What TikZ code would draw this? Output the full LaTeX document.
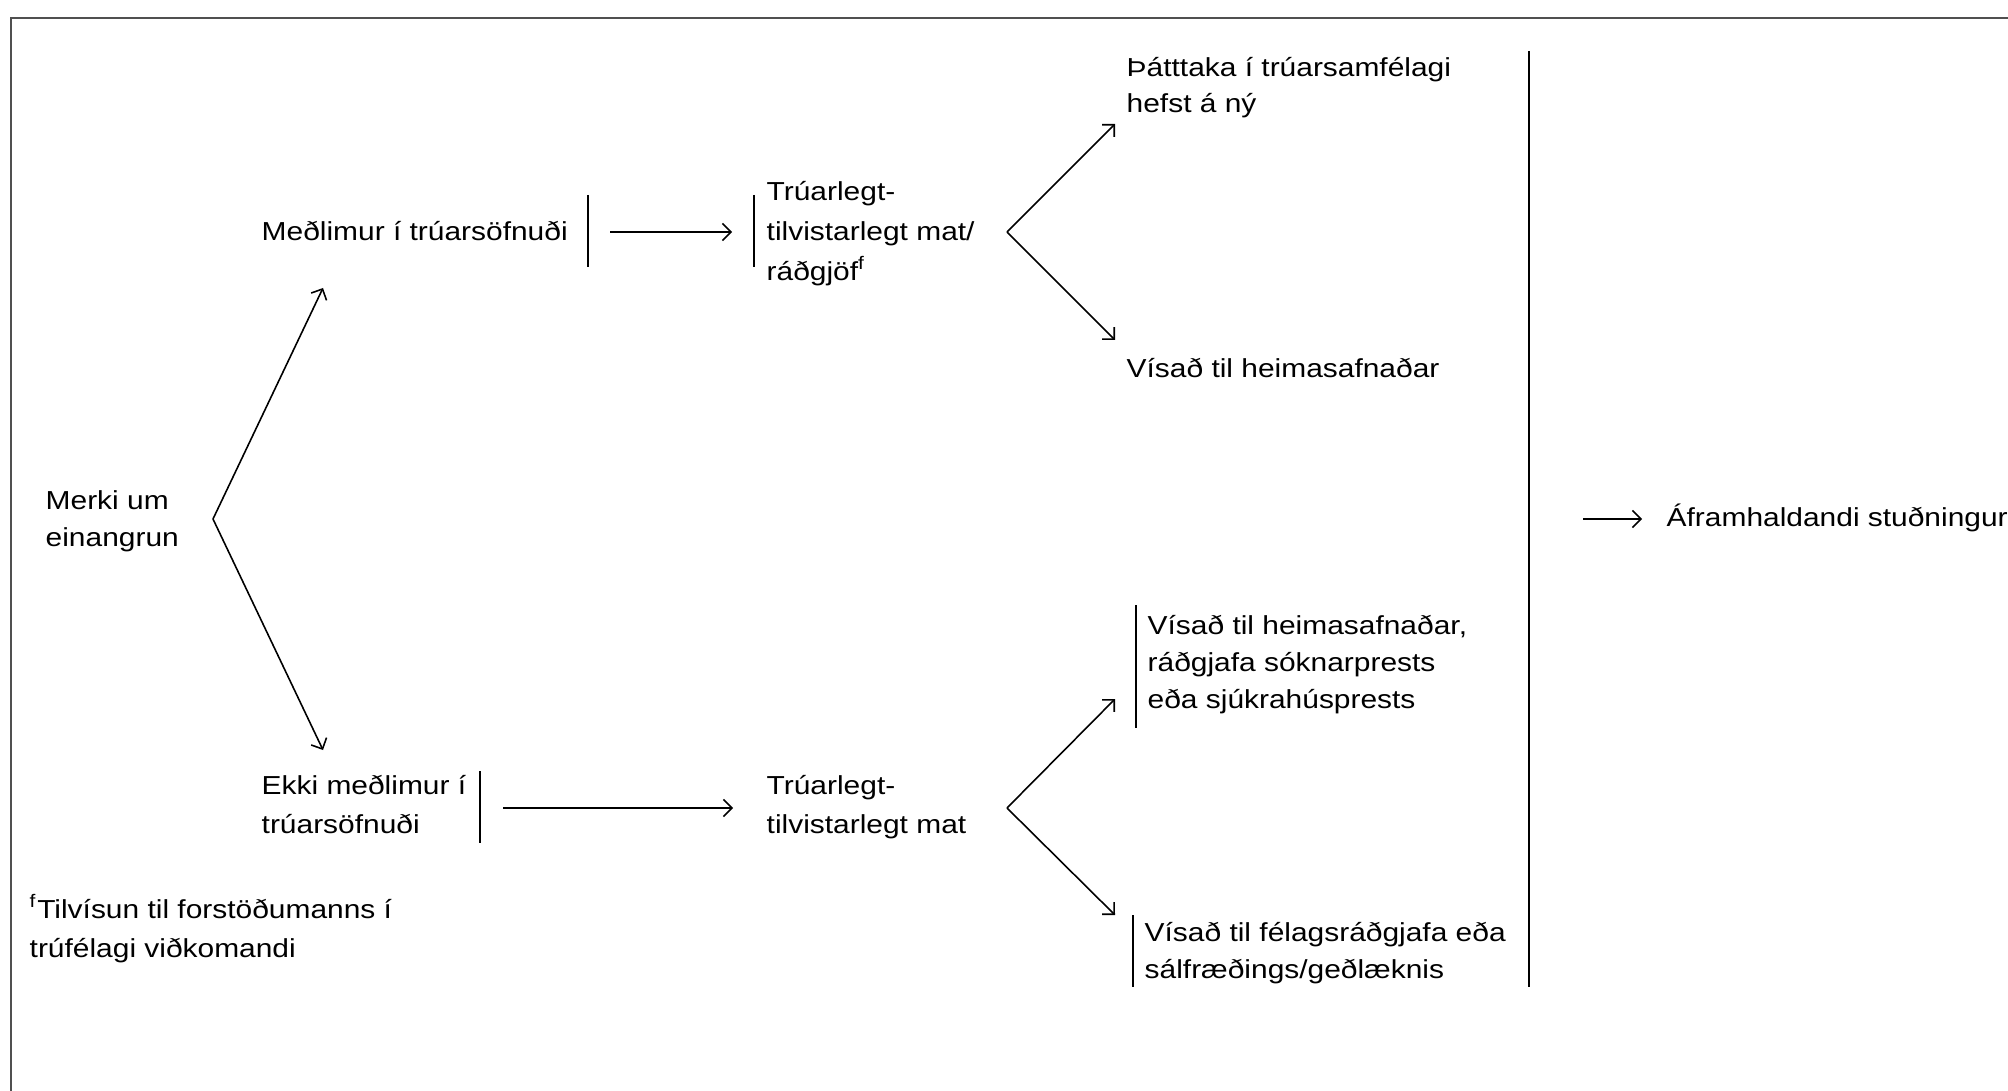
\documentclass[tikz,border=0pt]{standalone}
\usepackage{fontspec}
\setmainfont{Liberation Sans}[FakeStretch=1.15]
\usetikzlibrary{arrows.meta}
\definecolor{framegray}{RGB}{80,80,80}
% stacked lines whose reference point is the baseline of the first line
\newcommand\txtrows[1]{\begin{tabular}[t]{@{}l@{}}#1\end{tabular}}

\begin{document}
\begin{tikzpicture}[x=0.01cm,y=-0.01cm,
  lab/.style={anchor=base west, inner sep=0pt, font=\fontsize{7.4}{10.6}\selectfont},
  lab wide/.style={lab, font=\fontsize{7.4}{11.3}\selectfont},
  arr/.style={line width=0.45pt, -{Straight Barb[length=0.085cm,width=0.17cm]}},
  bar/.style={line width=0.45pt},
  divider/.style={line width=0.55pt},
  frame/.style={line width=0.6pt, draw=framegray}]

\useasboundingbox (0,0) rectangle (2008,1091);

% page frame
\coordinate (fTL) at (11,18);
\coordinate (fTR) at (2008,18);
\coordinate (fBL) at (11,1091);
\draw[frame] (fTR) -- (fTL) -- (fBL);

% text blocks
\node[lab] (merki) at (45,509) {\txtrows{Merki um\\einangrun}};
\node[lab] (medlimur) at (261,241) {Meðlimur í trúarsöfnuði};
\node[lab wide] (mat1) at (766,201) {\txtrows{Trúarlegt-\\tilvistarlegt mat/\\ráðgjöf\textsuperscript{f}}};
\node[lab, font=\fontsize{7.4}{10.0}\selectfont] (thatttaka) at (1126,77) {\txtrows{Þátttaka í trúarsamfélagi\\hefst á ný}};
\node[lab] (visad1) at (1126,377) {Vísað til heimasafnaðar};
\node[lab] (afram) at (1666,527) {Áframhaldandi stuðningur};
\node[lab wide] (ekki) at (261,794) {\txtrows{Ekki meðlimur í\\trúarsöfnuði}};
\node[lab wide] (mat2) at (766,794) {\txtrows{Trúarlegt-\\tilvistarlegt mat}};
\node[lab] (visad2) at (1147,634) {\txtrows{Vísað til heimasafnaðar,\\ráðgjafa sóknarprests\\eða sjúkrahúsprests}};
\node[lab] (visad3) at (1144,941) {\txtrows{Vísað til félagsráðgjafa eða\\sálfræðings/geðlæknis}};
\node[lab wide] (fnote) at (29,918) {\txtrows{\textsuperscript{f}Tilvísun til forstöðumanns í\\trúfélagi viðkomandi}};

% side bars of the text blocks
\coordinate (b1t) at (588,195);  \coordinate (b1b) at (588,267);
\coordinate (b2t) at (754,195);  \coordinate (b2b) at (754,267);
\coordinate (b3t) at (480,771);  \coordinate (b3b) at (480,843);
\coordinate (b4t) at (1136,605); \coordinate (b4b) at (1136,728);
\coordinate (b5t) at (1133,915); \coordinate (b5b) at (1133,987);
\coordinate (b6t) at (1529,51);  \coordinate (b6b) at (1529,987);
\foreach \b in {1,...,5} \draw[bar] (b\b t) -- (b\b b);
\draw[divider] (b6t) -- (b6b);

% branching points and arrow ends
\coordinate (forkA) at (213,519);
\coordinate (tipA1) at (323,288);
\coordinate (tipA2) at (323,750);
\coordinate (forkB) at (1007,232);
\coordinate (tipB1) at (1115,124);
\coordinate (tipB2) at (1115,340);
\coordinate (forkC) at (1007,808);
\coordinate (tipC1) at (1115,699);
\coordinate (tipC2) at (1115,915);

\draw[arr] (forkA) -- (tipA1);
\draw[arr] (forkA) -- (tipA2);
\draw[arr] (forkB) -- (tipB1);
\draw[arr] (forkB) -- (tipB2);
\draw[arr] (forkC) -- (tipC1);
\draw[arr] (forkC) -- (tipC2);

% straight arrows
\coordinate (s1) at (610,232); \coordinate (e1) at (732,232);
\coordinate (s2) at (503,808); \coordinate (e2) at (733,808);
\coordinate (s3) at (1583,519); \coordinate (e3) at (1642,519);
\draw[arr] (s1) -- (e1);
\draw[arr] (s2) -- (e2);
\draw[arr] (s3) -- (e3);
\end{tikzpicture}
\end{document}
